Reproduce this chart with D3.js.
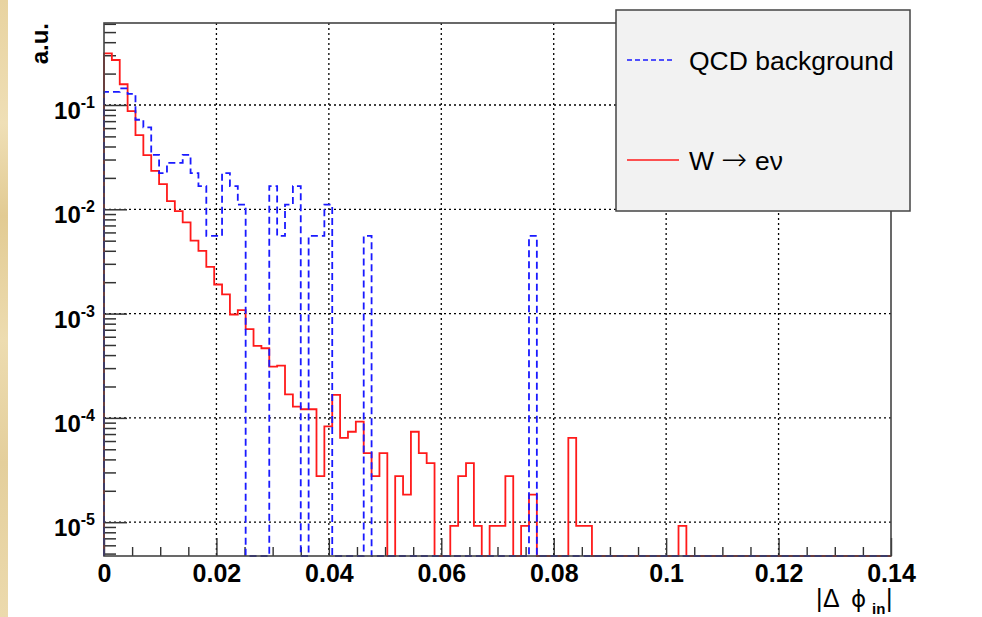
<!DOCTYPE html>
<html>
<head>
<meta charset="utf-8">
<script src="https://cdn.jsdelivr.net/npm/d3@7"></script>
<style>
  body { margin: 0; background: #fff; }
  svg { display: block; }
  text { font-family: 'Liberation Sans', Arial, Helvetica, sans-serif; }
</style>
</head>
<body>
<svg id="chart"></svg>
<script>
// histogram binning: 100 bins over |dphi_in| in [0, 0.14]
var xMin = 0, xMax = 0.14, nBins = 100;

// W -> e nu (red, solid), normalised
var wenu = [
  0.313, 0.27, 0.158, 0.0875, 0.0515, 0.033, 0.0234, 0.0174, 0.012, 0.0096,
  0.0075, 0.0050, 0.0040, 0.0028, 0.0019, 0.00153, 0.00098, 0.00108, 0.00071, 0.00049,
  0.000465, 0.00031, 0.000317, 0.000168, 0.000128, 0.000121, 0.000121, 2.76e-5, 8.28e-5, 1.66e-4,
  6.44e-5, 7.36e-5, 9.2e-5, 4.6e-5, 2.76e-5, 4.6e-5, 0, 2.76e-5, 1.84e-5, 7.36e-5,
  4.6e-5, 3.68e-5, 0, 0, 9.2e-6, 2.76e-5, 3.68e-5, 9.2e-6, 0, 9.2e-6,
  9.2e-6, 2.76e-5, 0, 9.2e-6, 1.84e-5, 0, 0, 0, 0, 6.44e-5,
  9.2e-6, 9.2e-6, 0, 0, 0, 0, 0, 0, 0, 0,
  0, 0, 0, 9.2e-6, 0, 0, 0, 0, 0, 0,
  0, 0, 0, 0, 0, 0, 0, 0, 0, 0,
  0, 0, 0, 0, 0, 0, 0, 0, 0, 0
];

// QCD background (blue, dashed), normalised
var qcd = [
  0.1333, 0.1333, 0.1444, 0.1278, 0.0722, 0.0611, 0.0333, 0.0222, 0.0278, 0.0278,
  0.0333, 0.0222, 0.0167, 0.00556, 0.00556, 0.0222, 0.0167, 0.0111, 0, 0,
  0, 0.0167, 0.00556, 0.0111, 0.0167, 0, 0.00556, 0.00556, 0.0111, 0,
  0, 0, 0, 0.00556, 0, 0, 0, 0, 0, 0,
  0, 0, 0, 0, 0, 0, 0, 0, 0, 0,
  0, 0, 0, 0, 0.00556, 0, 0, 0, 0, 0,
  0, 0, 0, 0, 0, 0, 0, 0, 0, 0,
  0, 0, 0, 0, 0, 0, 0, 0, 0, 0,
  0, 0, 0, 0, 0, 0, 0, 0, 0, 0,
  0, 0, 0, 0, 0, 0, 0, 0, 0, 0
];

var xTickLabels = ["0", "0.02", "0.04", "0.06", "0.08", "0.1", "0.12", "0.14"];
var xMajor = [0, 0.02, 0.04, 0.06, 0.08, 0.1, 0.12, 0.14];
var yDecades = [-5, -4, -3, -2, -1];
var yMin = 4.74e-6, yMax = 0.611;

var font = "'Liberation Sans', Arial, Helvetica, sans-serif";

var svg = d3.select("#chart").attr("width", 982).attr("height", 617);

// beige strip on the left edge
var defs = svg.append("defs");
var grad = defs.append("linearGradient").attr("id", "parch")
    .attr("x1", 0).attr("y1", 0).attr("x2", 0).attr("y2", 1);
[["0", "#e8d3a0"], ["0.2", "#efdfb6"], ["0.35", "#e2cb93"], ["0.55", "#eddcb0"],
 ["0.75", "#e4cf9c"], ["1", "#ecdaad"]].forEach(function(s){
    grad.append("stop").attr("offset", s[0]).attr("stop-color", s[1]);
});
svg.append("rect").attr("x", 0).attr("y", 0).attr("width", 8).attr("height", 617)
    .attr("fill", "url(#parch)");

var x = d3.scaleLinear().domain([xMin, xMax]).range([104, 891]);
var y = d3.scaleLog().domain([yMin, yMax]).range([556, 23]);

var frameTop = y.range()[1], frameBottom = y.range()[0];
var frameLeft = x.range()[0], frameRight = x.range()[1];

// grid
var grid = svg.append("g")
    .attr("stroke", "#000").attr("stroke-width", 1.3).attr("stroke-dasharray", "2,3");
xMajor.slice(1, -1).forEach(function(v){
    grid.append("line").attr("x1", x(v)).attr("x2", x(v))
        .attr("y1", frameTop).attr("y2", frameBottom);
});
yDecades.forEach(function(k){
    grid.append("line").attr("x1", frameLeft).attr("x2", frameRight)
        .attr("y1", y(Math.pow(10, k))).attr("y2", y(Math.pow(10, k)));
});

// x axis ticks (pointing up into the frame)
var xMinor = d3.range(0, 29).map(function(i){ return i * 0.005; })
    .filter(function(v){ return Math.abs(v / 0.02 - Math.round(v / 0.02)) > 1e-6; });
svg.append("g").attr("transform", "translate(0," + frameBottom + ")")
    .call(d3.axisTop(x).tickValues(xMinor).tickSize(9).tickFormat(""))
    .call(function(g){ g.select(".domain").remove(); })
    .selectAll("line").attr("stroke", "#333").attr("stroke-width", 1.4);
svg.append("g").attr("transform", "translate(0," + frameBottom + ")")
    .call(d3.axisTop(x).tickValues(xMajor).tickSize(18).tickFormat(""))
    .call(function(g){ g.select(".domain").remove(); })
    .selectAll("line").attr("stroke", "#333").attr("stroke-width", 1.4);
var xl = svg.append("g").attr("transform", "translate(0," + frameBottom + ")")
    .call(d3.axisBottom(x).tickValues(xMajor).tickSize(0).tickPadding(8)
        .tickFormat(function(d, i){ return xTickLabels[i]; }));
xl.select(".domain").remove();
xl.selectAll("text").attr("font-family", font).attr("font-size", 25)
    .attr("font-weight", "bold").attr("fill", "#000");

// y axis ticks (pointing right into the frame)
var yMinorVals = [];
for (var k = -6; k <= 0; k++) {
    for (var m = 2; m <= 9; m++) {
        var v = m * Math.pow(10, k);
        if (v >= yMin && v <= yMax) yMinorVals.push(v);
    }
}
svg.append("g").attr("transform", "translate(" + frameLeft + ",0)")
    .call(d3.axisRight(y).tickValues(yMinorVals).tickSize(12).tickFormat(""))
    .call(function(g){ g.select(".domain").remove(); })
    .selectAll("line").attr("stroke", "#333").attr("stroke-width", 1.5);
svg.append("g").attr("transform", "translate(" + frameLeft + ",0)")
    .call(d3.axisRight(y).tickValues(yDecades.map(function(k){ return Math.pow(10, k); }))
        .tickSize(23).tickFormat(""))
    .call(function(g){ g.select(".domain").remove(); })
    .selectAll("line").attr("stroke", "#333").attr("stroke-width", 1.5);

yDecades.forEach(function(k){
    var t = svg.append("text").attr("x", 95).attr("y", y(Math.pow(10, k)) + 14)
        .attr("text-anchor", "end").attr("font-weight", "bold").attr("fill", "#000");
    t.append("tspan").attr("font-size", 24).text("10");
    t.append("tspan").attr("font-size", 16).attr("dy", -11).text(String(k));
});

// histograms
var binW = (xMax - xMin) / nBins;
function stepPoints(vals) {
    var pts = [[xMin, yMin]];
    vals.forEach(function(v, i){
        var vv = v > yMin ? v : yMin;
        pts.push([xMin + i * binW, vv]);
        pts.push([xMin + (i + 1) * binW, vv]);
    });
    pts.push([xMax, yMin]);
    return pts;
}
var line = d3.line()
    .x(function(d){ return x(d[0]); })
    .y(function(d){ return y(d[1]); });

svg.append("path").attr("d", line(stepPoints(wenu)))
    .attr("fill", "none").attr("stroke", "#ff1a1a").attr("stroke-width", 1.8);
svg.append("path").attr("d", line(stepPoints(qcd)))
    .attr("fill", "none").attr("stroke", "#1a1aff").attr("stroke-width", 1.8)
    .attr("stroke-dasharray", "7,4");

// frame
svg.append("rect").attr("x", frameLeft).attr("y", frameTop)
    .attr("width", frameRight - frameLeft).attr("height", frameBottom - frameTop)
    .attr("fill", "none").attr("stroke", "#444").attr("stroke-width", 1.6);

// axis titles
svg.append("text").attr("transform", "translate(48," + frameTop + ") rotate(-90)")
    .attr("text-anchor", "end").attr("font-size", 24).attr("font-weight", "bold")
    .attr("fill", "#000").text("a.u.");

var xt = svg.append("text").attr("y", 607).attr("font-size", 25).attr("fill", "#000");
xt.append("tspan").attr("x", 816).text("|");
xt.append("tspan").attr("x", 823).text("Δ");
xt.append("tspan").attr("x", 851).attr("font-family", "'DejaVu Sans', sans-serif")
    .attr("font-size", 23).text("ϕ");
xt.append("tspan").attr("x", 872).attr("dy", 7).attr("font-size", 15)
    .attr("font-weight", "bold").text("in");
xt.append("tspan").attr("x", 886).attr("dy", -7).text("|");

// legend
var leg = svg.append("g");
leg.append("rect").attr("x", 616).attr("y", 10).attr("width", 294).attr("height", 201)
    .attr("fill", "#f2f2f2").attr("stroke", "#444").attr("stroke-width", 1.5);
leg.append("line").attr("x1", 627).attr("x2", 675).attr("y1", 60).attr("y2", 60)
    .attr("stroke", "#1a1aff").attr("stroke-width", 1.6).attr("stroke-dasharray", "5,3");
leg.append("text").attr("x", 689).attr("y", 69.5).attr("font-size", 26.5)
    .attr("fill", "#000").text("QCD background");
leg.append("line").attr("x1", 627).attr("x2", 679).attr("y1", 160).attr("y2", 160)
    .attr("stroke", "#ff1a1a").attr("stroke-width", 1.6);
var lt = leg.append("text").attr("y", 170).attr("font-size", 26.5).attr("fill", "#000");
lt.append("tspan").attr("x", 689).text("W");
lt.append("tspan").attr("x", 721).attr("font-family", "'DejaVu Sans', sans-serif")
    .attr("font-size", 31).attr("font-weight", "200").text("→");
lt.append("tspan").attr("x", 755).text("eν");
</script>
</body>
</html>
